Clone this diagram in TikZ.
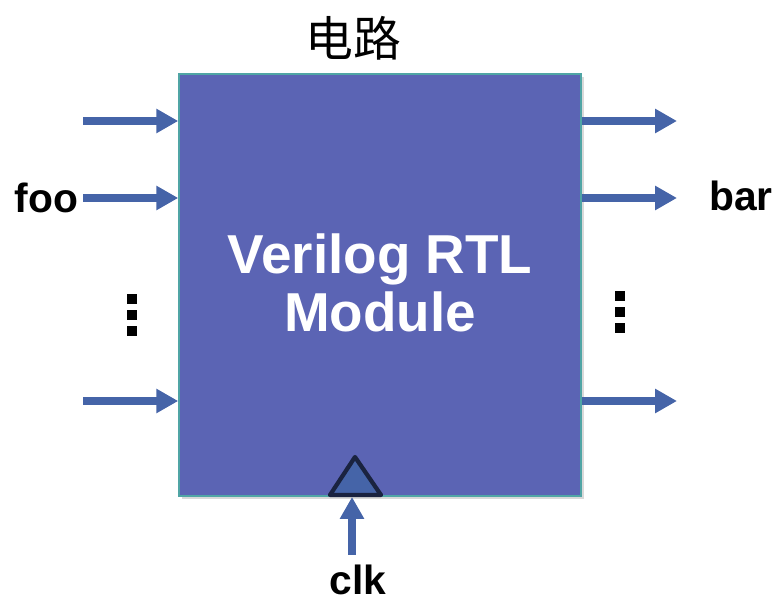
\documentclass[tikz,border=0pt]{standalone}
\usepackage{fontspec}
\setmainfont{Liberation Sans}
\newfontfamily\cjk{Noto Sans CJK SC}
\usetikzlibrary{arrows.meta}
\definecolor{modfill}{RGB}{91,100,180}
\definecolor{modedge}{RGB}{80,165,165}
\definecolor{sigblue}{RGB}{69,100,168}
\definecolor{clkedge}{RGB}{26,35,64}
\tikzset{
  sig/.style={draw=sigblue, line width=5.4pt, -{Triangle[length=15.6pt,width=16.4pt]}},
  portlbl/.style={font=\fontsize{29}{30}\selectfont\bfseries},
  dot/.style={fill=black}
}
\begin{document}
\begin{tikzpicture}[x=0.025cm,y=-0.025cm]
\useasboundingbox (0,0) rectangle (779,603);
% module box
\fill[black!15] (182,77) rectangle (584,499);
\node[fill=modfill, draw=modedge, line width=1pt, minimum width=10.05cm, minimum height=10.55cm, inner sep=0pt] (rtl) at (380,285) {};
\node[text=white, font=\fontsize{39}{41}\selectfont\bfseries, align=center] (name) at (380,283) {Verilog RTL\\Module};
\node[font=\cjk\fontsize{34}{36}\selectfont] (title) at (353,38) {电路};

% inputs
\coordinate (in1) at (83,121);
\coordinate (in2) at (83,198);
\coordinate (in3) at (83,401);
\node[portlbl, anchor=east] (foo) at (in2) {foo};
\path[sig] (in1) -- (rtl.west |- in1);
\path[sig] (in2) -- (rtl.west |- in2);
\path[sig] (in3) -- (rtl.west |- in3);

% outputs
\coordinate (out1) at (677,121);
\coordinate (out2) at (677,198);
\coordinate (out3) at (677,401);
\node[portlbl] (bar) at (741,196) {bar};
\path[sig] (rtl.east |- out1) -- (out1);
\path[sig] (rtl.east |- out2) -- (out2);
\path[sig] (rtl.east |- out3) -- (out3);

% dots
\foreach \y in {299,315,331} {
  \fill[dot] (127,\y-5) rectangle (137,\y+5);
  \fill[dot] (615,\y-8) rectangle (625,\y+2);
}

% clock
\coordinate (tl) at (330,495);
\coordinate (tt) at (355,457);
\coordinate (tr) at (381,495);
\draw[clkedge, fill=sigblue, line width=3pt, line join=round] (tl) -- (tt) -- (tr) -- cycle;
\node[portlbl] (clk) at (358,580) {clk};
\coordinate (clkin) at (352,555);
\path[sig] (clkin) -- (352,497);
\end{tikzpicture}
\end{document}
